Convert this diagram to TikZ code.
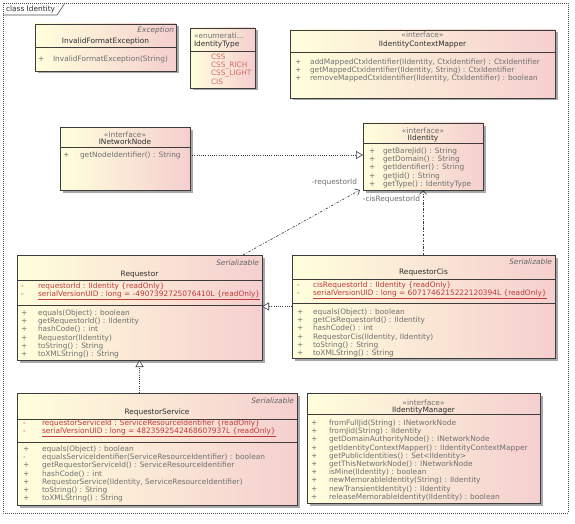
\documentclass[tikz,border=0pt]{standalone}
\usepackage{fontspec}
\setmainfont{DejaVu Sans}
\usetikzlibrary{arrows.meta}
\definecolor{boxl}{HTML}{FFFFDC}
\definecolor{boxr}{HTML}{F5CFCF}
\definecolor{edgec}{HTML}{3C3C3C}
\definecolor{shadowc}{HTML}{A8A8A8}
\definecolor{memc}{HTML}{707070}
\definecolor{namec}{HTML}{2E2E2E}
\definecolor{attrc}{HTML}{C03A3A}
\definecolor{litc}{HTML}{D86A6A}
\definecolor{framec}{HTML}{505050}
\tikzset{
  classbox/.style={draw=edgec, line width=0.6pt, left color=boxl, right color=boxr, inner sep=0pt, outer sep=0pt},
  txt/.style={font=\fontsize{7.4}{8}\selectfont, text=memc, inner sep=0pt, outer sep=0pt},
  nametxt/.style={txt, text=namec},
  stereo/.style={txt, font=\fontsize{7.4}{8}\selectfont\itshape, text=memc!90!black},
  attr/.style={text=attrc},
  lit/.style={text=litc},
  sepl/.style={draw=edgec, line width=0.6pt},
  framel/.style={draw=framec, line width=0.7pt, dash pattern=on 0.8pt off 1.2pt},
  realiz/.style={draw=edgec, line width=0.6pt, dash pattern=on 0.8pt off 1.4pt, -{Triangle[open, length=7pt, width=8pt, fill=white]}},
  assoc/.style={draw=edgec, line width=0.6pt, dash pattern=on 2.5pt off 1.5pt on 0.8pt off 1.5pt, -{Straight Barb[length=4pt, width=7pt]}},
  rolel/.style={txt, text=memc},
}
% class box: name, x, y, w, h
\newcommand{\umlclass}[5]{%
  \fill[shadowc] ({#2+2.5},{#3+2.5}) rectangle ++(#4,#5);
  \node[classbox, minimum width=#4pt, minimum height=#5pt, anchor=north west] (#1) at (#2,#3) {};
}
% members: [style] prefix, x symbol, x text, first baseline, list sym/text
\newcommand{\members}[6][]{%
  \foreach [count=\i] \s/\t in {#6} {
    \node[txt, #1, anchor=base west] (#2s\i) at ({#3},{#5+(\i-1)*8.2}) {\s};
    \node[txt, #1, anchor=base west] (#2t\i) at ({#4},{#5+(\i-1)*8.2}) {\t};
  }
}
\begin{document}
\begin{tikzpicture}[x=1pt, y=-1pt]
\useasboundingbox (0,0) rectangle (575,524);
\fill[white] (0,0) rectangle (575,524);

% frame
\draw[framel] (3,3) rectangle (568,513);
\draw[draw=framec, line width=0.6pt] (3,15) -- (57,15) -- (65,3);
\node[txt, text=namec, anchor=base west] (frametitle) at (6,12) {class Identity};

% InvalidFormatException
\umlclass{ife}{35}{24}{141}{47}
\node[stereo, anchor=base east] (ifest) at (174,33) {Exception};
\node[nametxt, anchor=base] (ifen) at (105.5,44) {InvalidFormatException};
\draw[sepl] (35,47) -- (176,47);
\members{ifem}{38}{53}{62}{+/{InvalidFormatException(String)}}

% IdentityType
\umlclass{itype}{190}{28}{65}{60}
\node[txt, anchor=base west] (itypest) at (194,38.5) {«enumerati...};
\node[nametxt, anchor=base west] (itypen) at (194,46.5) {IdentityType};
\draw[sepl] (190,51) -- (255,51);
\members[lit]{itypem}{200}{211}{59.5}{/CSS,/CSS\_RICH,/CSS\_LIGHT,/CIS}

% IIdentityContextMapper
\umlclass{icm}{290}{30}{265}{68}
\node[txt, anchor=base] (icmst) at (422.5,37.5) {«interface»};
\node[nametxt, anchor=base] (icmn) at (422.5,46.5) {IIdentityContextMapper};
\draw[sepl] (290,52) -- (555,52);
\members{icmm}{295}{310}{64.5}{+/{addMappedCtxIdentifier(IIdentity, CtxIdentifier) : CtxIdentifier},+/{getMappedCtxIdentifier(IIdentity, String) : CtxIdentifier},+/{removeMappedCtxIdentifier(IIdentity, CtxIdentifier) : boolean}}

% INetworkNode
\umlclass{inn}{60}{127}{130}{63}
\node[txt, anchor=base] (innst) at (125,137.5) {«interface»};
\node[nametxt, anchor=base] (innn) at (125,144.5) {INetworkNode};
\draw[sepl] (60,147) -- (190,147);
\members{innm}{63}{80}{157.5}{+/{getNodeIdentifier() : String}}

% IIdentity
\umlclass{iid}{363}{123}{120}{67}
\node[txt, anchor=base] (iidst) at (423,133.5) {«interface»};
\node[nametxt, anchor=base] (iidn) at (423,140.5) {IIdentity};
\draw[sepl] (363,143) -- (483,143);
\members{iidm}{369}{383}{153.5}{+/{getBareJid() : String},+/{getDomain() : String},+/{getIdentifier() : String},+/{getJid() : String},+/{getType() : IdentityType}}

% Requestor
\umlclass{req}{17}{255}{245}{105}
\node[stereo, anchor=base east] (reqst) at (259,265.5) {Serializable};
\node[nametxt, anchor=base] (reqn) at (139.5,276.5) {Requestor};
\draw[sepl] (17,280) -- (262,280);
\members[attr]{reqa}{21}{38}{288.5}{-/{requestorId : IIdentity \{readOnly\}},-/{\underline{serialVersionUID : long = -4907392725076410L \{readOnly\}}}}
\draw[sepl] (17,305) -- (262,305);
\members{reqm}{21}{38}{315.5}{+/{equals(Object) : boolean},+/{getRequestorId() : IIdentity},+/{hashCode() : int},+/{Requestor(IIdentity)},+/{toString() : String},+/{toXMLString() : String}}

% RequestorCis
\umlclass{cis}{292}{255}{263}{103}
\node[stereo, anchor=base east] (cisst) at (552,264.5) {Serializable};
\node[nametxt, anchor=base] (cisn) at (423.5,274.5) {RequestorCis};
\draw[sepl] (292,279) -- (555,279);
\members[attr]{cisa}{297}{313}{287.5}{-/{cisRequestorId : IIdentity \{readOnly\}},-/{\underline{serialVersionUID : long = 6071746215222120394L \{readOnly\}}}}
\draw[sepl] (292,303) -- (555,303);
\members{cism}{297}{313}{314.5}{+/{equals(Object) : boolean},+/{getCisRequestorId() : IIdentity},+/{hashCode() : int},+/{RequestorCis(IIdentity, IIdentity)},+/{toString() : String},+/{toXMLString() : String}}

% RequestorService
\umlclass{srv}{17}{393}{280}{112}
\node[stereo, anchor=base east] (srvst) at (294,403.5) {Serializable};
\node[nametxt, anchor=base] (srvn) at (157,414.5) {RequestorService};
\draw[sepl] (17,419) -- (297,419);
\members[attr]{srva}{23}{42}{425.5}{-/{requestorServiceId : ServiceResourceIdentifier \{readOnly\}},-/{\underline{serialVersionUID : long = 4823592542468607937L \{readOnly\}}}}
\draw[sepl] (17,442) -- (297,442);
\members{srvm}{23}{42}{451.5}{+/{equals(Object) : boolean},-/{equalsServiceIdentifier(ServiceResourceIdentifier) : boolean},+/{getRequestorServiceId() : ServiceResourceIdentifier},+/{hashCode() : int},+/{RequestorService(IIdentity, ServiceResourceIdentifier)},+/{toString() : String},+/{toXMLString() : String}}

% IIdentityManager
\umlclass{imgr}{307}{393}{233}{110}
\node[txt, anchor=base] (imgrst) at (423.5,405.5) {«interface»};
\node[nametxt, anchor=base] (imgrn) at (423.5,412.5) {IIdentityManager};
\draw[sepl] (307,414) -- (540,414);
\members{imgrm}{311}{329}{425.5}{+/{fromFullJid(String) : INetworkNode},+/{fromJid(String) : IIdentity},+/{getDomainAuthorityNode() : INetworkNode},+/{getIdentityContextMapper() : IIdentityContextMapper},+/{getPublicIdentities() : Set<IIdentity>},+/{getThisNetworkNode() : INetworkNode},+/{isMine(IIdentity) : boolean},+/{newMemorableIdentity(String) : IIdentity},+/{newTransientIdentity() : IIdentity},+/{releaseMemorableIdentity(IIdentity) : boolean}}

% connectors
\draw[realiz] ([yshift=3.5pt]inn.east) -- ([yshift=3.5pt]inn.east -| iid.west);
\draw[assoc] ([xshift=103.5pt]req.north) -- ([xshift=-3pt]iid.south west);
\node[rolel, anchor=base east] (reqrole) at (357,184) {-requestorId};
\draw[assoc] (cis.north -| iid.south) -- (iid.south);
\node[rolel, anchor=base east] (cisrole) at (420,201) {-cisRequestorId};
\draw[realiz] (cis.west) -- (cis.west -| req.east);
\draw[realiz] (req.south |- srv.north) -- (req.south);
\end{tikzpicture}
\end{document}
